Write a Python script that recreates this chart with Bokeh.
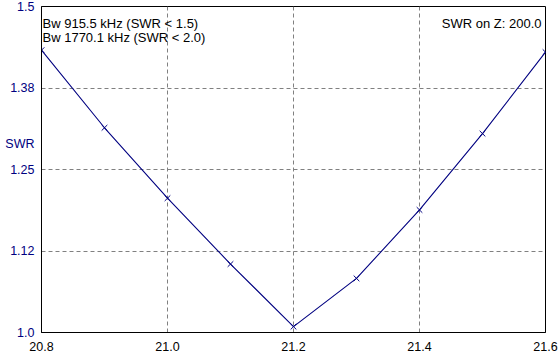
from bokeh.plotting import figure
from bokeh.models import Range1d, FixedTicker, Label
from bokeh.embed import file_html
from bokeh.resources import INLINE

# Data
freq = [20.8, 20.9, 21.0, 21.1, 21.2, 21.3, 21.4, 21.5, 21.6]
swr = [1.433, 1.314, 1.206, 1.105, 1.009, 1.083, 1.188, 1.305, 1.430]
x_ticks = [20.8, 21.0, 21.2, 21.4, 21.6]
x_tick_labels = ["20.8", "21.0", "21.2", "21.4", "21.6"]
y_ticks = [1.0, 1.125, 1.25, 1.375, 1.5]
y_tick_labels = ["1.0", "1.12", "1.25", "1.38", "1.5"]
bw_lines = ["Bw 915.5 kHz (SWR < 1.5)", "Bw 1770.1 kHz (SWR < 2.0)"]
z_text = "SWR on Z: 200.0"
y_name = "SWR"
y_name_pos = 1.2885  # vertical position of the axis name, in SWR units

FONT = "Liberation Sans"
NAVY = "#000080"

p = figure(width=560, height=354, output_backend="svg", toolbar_location=None,
           x_range=Range1d(20.8, 21.6), y_range=Range1d(1.0, 1.5),
           min_border_left=41, min_border_right=15, min_border_top=6,
           min_border_bottom=22)
p.background_fill_color = "white"
p.border_fill_color = "white"
p.outline_line_color = "black"
p.outline_line_width = 1

for ax in (p.xaxis[0], p.yaxis[0]):
    ax.major_tick_in = 0
    ax.major_tick_out = 0
    ax.minor_tick_in = 0
    ax.minor_tick_out = 0
    ax.axis_line_color = "black"
    ax.major_label_text_font = FONT
    ax.major_label_text_font_size = "12.5px"

p.xaxis.ticker = FixedTicker(ticks=x_ticks)
p.xaxis.major_label_overrides = {t: l for t, l in zip(x_ticks, x_tick_labels)}
p.xaxis.major_label_text_color = "black"
p.xaxis.major_label_standoff = 9

# y axis: real ticks plus the axis name placed as an extra label
p.yaxis.ticker = FixedTicker(ticks=y_ticks + [y_name_pos])
overrides = {t: l for t, l in zip(y_ticks, y_tick_labels)}
overrides[y_name_pos] = y_name
p.yaxis.major_label_overrides = overrides
p.yaxis.major_label_text_color = NAVY
p.yaxis.major_label_standoff = 7

p.xgrid.ticker = FixedTicker(ticks=x_ticks)
p.ygrid.ticker = FixedTicker(ticks=y_ticks)
for g in (p.xgrid[0], p.ygrid[0]):
    g.grid_line_color = "#808080"
    g.grid_line_dash = "4 3"
    g.grid_line_width = 1

p.line(freq, swr, line_color=NAVY, line_width=1.1)
p.scatter(freq, swr, marker="x", size=8, line_color=NAVY, line_width=1)

for i, t in enumerate(bw_lines):
    p.add_layout(Label(x=20.8, y=1.5, x_offset=1, y_offset=-9 - 14 * i, text=t,
                       text_font=FONT, text_font_size="13px", text_color="black",
                       text_align="left", text_baseline="top"))
p.add_layout(Label(x=21.6, y=1.5, x_offset=-4, y_offset=-9, text=z_text,
                   text_font=FONT, text_font_size="13px", text_color="black",
                   text_align="right", text_baseline="top"))

open("out.html", "w").write(file_html(p, INLINE))
